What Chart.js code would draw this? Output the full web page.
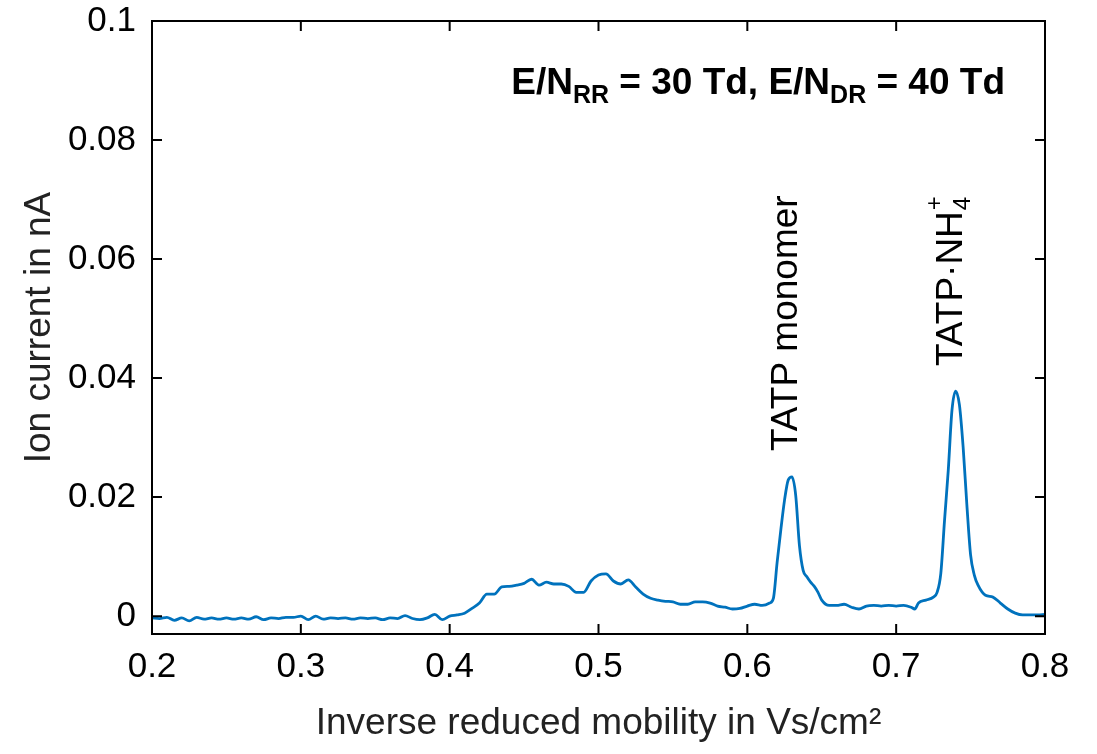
<!DOCTYPE html>
<html lang="en">
<head>
    <meta charset="UTF-8">
    <title>Ion current spectrum</title>
    <script src="https://cdn.jsdelivr.net/npm/chart.js@4.4.0/dist/chart.umd.min.js"></script>
    <style>
        * { margin: 0; padding: 0; box-sizing: border-box; }
        body { background: #fff; width: 1097px; height: 754px; overflow: hidden; }
        canvas { display: block; }
    </style>
</head>
<body>
    <canvas id="spectrum" width="1097" height="754"></canvas>

    <script>
        // Inverse reduced mobility (Vs/cm2)
        const mobility = [
            0.200, 0.205, 0.210, 0.215, 0.220, 0.225, 0.230, 0.235, 0.240, 0.245,
            0.250, 0.255, 0.260, 0.265, 0.270, 0.275, 0.280, 0.285, 0.290, 0.295,
            0.300, 0.305, 0.310, 0.315, 0.320, 0.325, 0.330, 0.335, 0.340, 0.345,
            0.350, 0.355, 0.360, 0.365, 0.370, 0.375, 0.380, 0.385, 0.390, 0.395,
            0.400, 0.405, 0.410, 0.415, 0.420, 0.425, 0.430, 0.435, 0.440, 0.445,
            0.450, 0.455, 0.460, 0.465, 0.470, 0.475, 0.480, 0.485, 0.490, 0.495,
            0.500, 0.505, 0.510, 0.515, 0.520, 0.525, 0.530, 0.535, 0.540, 0.545,
            0.550, 0.555, 0.560, 0.565, 0.570, 0.575, 0.580, 0.585, 0.590, 0.595,
            0.600, 0.605, 0.610, 0.615, 0.6175, 0.620, 0.6225, 0.625, 0.6275, 0.630,
            0.6325, 0.635, 0.6375, 0.640, 0.6425, 0.645, 0.6475, 0.650, 0.655, 0.660,
            0.665, 0.670, 0.675, 0.680, 0.685, 0.690, 0.695, 0.700, 0.705, 0.710,
            0.7125, 0.715, 0.720, 0.725, 0.7275, 0.730, 0.7325, 0.735, 0.7375, 0.740,
            0.7425, 0.745, 0.7475, 0.750, 0.7525, 0.755, 0.760, 0.765, 0.770, 0.775,
            0.780, 0.785, 0.790, 0.795, 0.800
        ];

        // Ion current (nA)
        const current = [
            -0.0003, -0.0004, -0.0002, -0.0007, -0.0003, -0.0008, -0.0002, -0.0005, -0.0003, -0.0005,
            -0.0003, -0.0005, -0.0003, -0.0005, -0.0001, -0.0006, -0.0003, -0.0004, -0.0002, -0.0002,
            0.0000, -0.0006, 0.0000, -0.0005, -0.0003, -0.0004, -0.0003, -0.0005, -0.0003, -0.0004,
            -0.0003, -0.0006, -0.0003, -0.0004, 0.0001, -0.0004, -0.0006, -0.0003, 0.0003, -0.0006,
            0.0000, 0.0002, 0.0005, 0.0013, 0.0022, 0.0037, 0.0037, 0.0049, 0.0050, 0.0052,
            0.0055, 0.0062, 0.0052, 0.0057, 0.0054, 0.0054, 0.0050, 0.0040, 0.0040, 0.0059,
            0.0069, 0.0071, 0.0059, 0.0054, 0.0061, 0.0049, 0.0037, 0.0030, 0.0027, 0.0025,
            0.0024, 0.0020, 0.0020, 0.0024, 0.0024, 0.0022, 0.0017, 0.0015, 0.0012, 0.0013,
            0.0017, 0.0020, 0.0018, 0.0022, 0.0030, 0.0090, 0.0145, 0.0195, 0.0229, 0.0234,
            0.0203, 0.0119, 0.0077, 0.0066, 0.0057, 0.0050, 0.0040, 0.0027, 0.0018, 0.0018,
            0.0020, 0.0015, 0.0012, 0.0017, 0.0018, 0.0017, 0.0018, 0.0017, 0.0018, 0.0015,
            0.0012, 0.0022, 0.0027, 0.0032, 0.0040, 0.0072, 0.0161, 0.0245, 0.0346, 0.0378,
            0.0355, 0.0284, 0.0187, 0.0103, 0.0069, 0.0052, 0.0035, 0.0032, 0.0022, 0.0012,
            0.0005, 0.0002, 0.0002, 0.0002, 0.0003
        ];

        const xTicks = [0.2, 0.3, 0.4, 0.5, 0.6, 0.7, 0.8];
        const xTickLabels = ['0.2', '0.3', '0.4', '0.5', '0.6', '0.7', '0.8'];
        const yTicks = [0, 0.02, 0.04, 0.06, 0.08, 0.1];
        const yTickLabels = ['0', '0.02', '0.04', '0.06', '0.08', '0.1'];

        const FONT = "'Liberation Sans', Arial, sans-serif";

        // Box frame with inward tick marks, plus the text annotations
        const framePlugin = {
            id: 'frame',
            afterDraw(chart) {
                const { ctx, chartArea: a, scales } = chart;
                const len = 10;
                ctx.save();
                ctx.strokeStyle = '#000';
                ctx.lineWidth = 2;
                ctx.strokeRect(a.left, a.top, a.right - a.left, a.bottom - a.top);
                ctx.beginPath();
                xTicks.forEach(v => {
                    const px = scales.x.getPixelForValue(v);
                    ctx.moveTo(px, a.bottom); ctx.lineTo(px, a.bottom - len);
                    ctx.moveTo(px, a.top); ctx.lineTo(px, a.top + len);
                });
                yTicks.forEach(v => {
                    const py = scales.y.getPixelForValue(v);
                    ctx.moveTo(a.left, py); ctx.lineTo(a.left + len, py);
                    ctx.moveTo(a.right, py); ctx.lineTo(a.right - len, py);
                });
                ctx.stroke();

                ctx.fillStyle = '#000';
                ctx.textBaseline = 'alphabetic';

                // E/N_RR = 30 Td, E/N_DR = 40 Td  (right aligned)
                const big = "bold 37px " + FONT;
                const small = "bold 25px " + FONT;
                const parts = [
                    ['E/N', big, 0], ['RR', small, 9], [' = 30 Td, E/N', big, 0],
                    ['DR', small, 9], [' = 40 Td', big, 0]
                ];
                let total = 0;
                parts.forEach(p => { ctx.font = p[1]; total += ctx.measureText(p[0]).width; });
                let x = 1005 - total;
                const base = 94;
                parts.forEach(p => {
                    ctx.font = p[1];
                    ctx.fillText(p[0], x, base + p[2]);
                    x += ctx.measureText(p[0]).width;
                });

                // rotated peak labels
                const label = "37px " + FONT;
                ctx.save();
                ctx.translate(scales.x.getPixelForValue(0.6265), 451);
                ctx.rotate(-Math.PI / 2);
                ctx.font = label;
                ctx.textBaseline = 'middle';
                ctx.fillText('TATP monomer', 0, 0);
                ctx.restore();

                ctx.save();
                ctx.translate(scales.x.getPixelForValue(0.7375), 366);
                ctx.rotate(-Math.PI / 2);
                ctx.font = label;
                ctx.textBaseline = 'middle';
                const main = 'TATP\u00B7NH';
                ctx.fillText(main, 0, 0);
                const w = ctx.measureText(main).width;
                ctx.font = "24px " + FONT;
                ctx.fillText('4', w + 1, 11);
                ctx.fillText('+', w + 1, -17);
                ctx.restore();

                ctx.restore();
            }
        };

        new Chart(document.getElementById('spectrum'), {
            type: 'line',
            data: {
                datasets: [{
                    data: mobility.map((m, i) => ({ x: m, y: current[i] })),
                    borderColor: '#0072BD',
                    borderWidth: 2.8,
                    pointRadius: 0,
                    cubicInterpolationMode: 'monotone',
                    fill: false
                }]
            },
            options: {
                responsive: false,
                animation: false,
                layout: { padding: { left: 0, right: 52, top: 21, bottom: 0 } },
                plugins: { legend: { display: false }, tooltip: { enabled: false } },
                scales: {
                    x: {
                        type: 'linear',
                        min: 0.2,
                        max: 0.8,
                        afterBuildTicks: s => { s.ticks = xTicks.map(v => ({ value: v })); },
                        afterFit: s => { s.height = 120; s.paddingLeft = 0; s.paddingRight = 0; },
                        grid: { display: false, drawTicks: false },
                        border: { display: false },
                        ticks: {
                            color: '#000',
                            padding: 12,
                            font: { family: FONT, size: 35 },
                            callback: (v, i) => xTickLabels[i]
                        },
                        title: {
                            display: true,
                            text: 'Inverse reduced mobility in Vs/cm\u00B2',
                            color: '#222',
                            font: { family: FONT, size: 37 },
                            padding: { top: 0, bottom: 8 }
                        }
                    },
                    y: {
                        min: -0.003,
                        max: 0.1,
                        afterBuildTicks: s => { s.ticks = yTicks.map(v => ({ value: v })); },
                        afterFit: s => { s.width = 152; s.paddingTop = 0; s.paddingBottom = 0; },
                        grid: { display: false, drawTicks: false },
                        border: { display: false },
                        ticks: {
                            color: '#000',
                            padding: 16,
                            font: { family: FONT, size: 35 },
                            callback: (v, i) => yTickLabels[i]
                        },
                        title: {
                            display: true,
                            text: 'Ion current in nA',
                            color: '#222',
                            font: { family: FONT, size: 37 },
                            padding: { top: 18, bottom: 0 }
                        }
                    }
                }
            },
            plugins: [framePlugin]
        });
    </script>
</body>
</html>
